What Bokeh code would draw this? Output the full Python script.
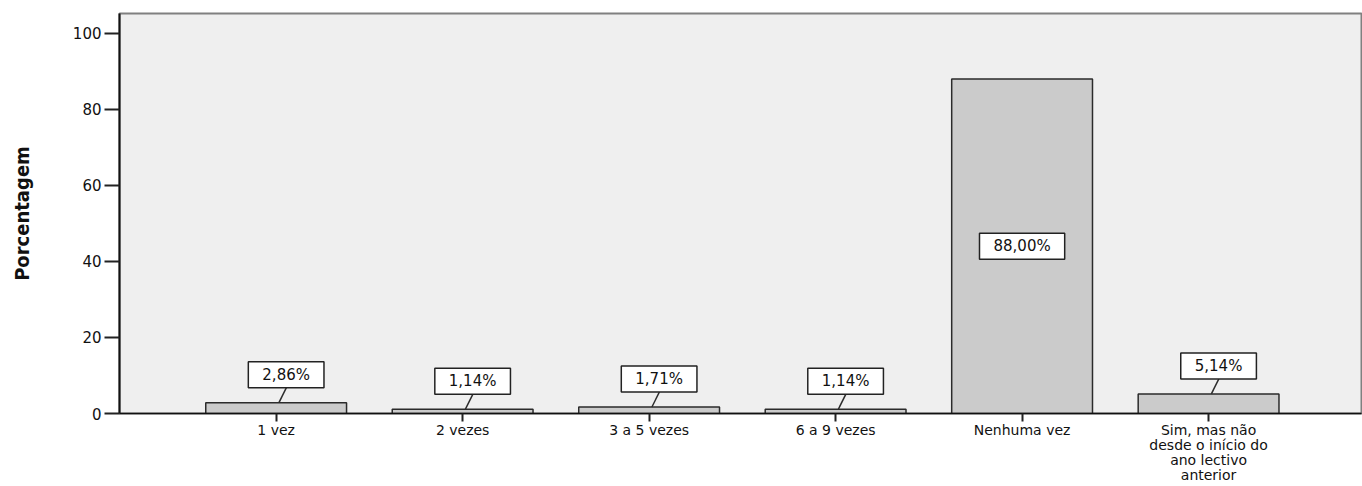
from bokeh.plotting import figure
from bokeh.models import Range1d, FixedTicker, ColumnDataSource
from bokeh.core.properties import value
from bokeh.embed import file_html
from bokeh.resources import INLINE

categories = ["1 vez", "2 vezes", "3 a 5 vezes", "6 a 9 vezes", "Nenhuma vez",
              "Sim, mas não\ndesde o início do\nano lectivo\nanterior"]
values = [2.86, 1.14, 1.71, 1.14, 88.00, 5.14]
labels = ["2,86%", "1,14%", "1,71%", "1,14%", "88,00%", "5,14%"]
y_ticks = [0, 20, 40, 60, 80, 100]

W, H = 1362, 486
B_LEFT, B_RIGHT, B_TOP, B_BOTTOM = 119, 1, 13, 68
Y_MAX = 105.2

xs = list(range(1, len(categories) + 1))

p = figure(width=W, height=H, output_backend="svg", toolbar_location=None,
           x_range=Range1d(0.16, 6.82), y_range=Range1d(0, Y_MAX),
           min_border_left=B_LEFT, min_border_right=B_RIGHT,
           min_border_top=B_TOP, min_border_bottom=B_BOTTOM)

p.background_fill_color = "#efefef"
p.border_fill_color = "white"
p.outline_line_color = "#808080"
p.outline_line_width = 2
p.xgrid.visible = False
p.ygrid.visible = False

src = ColumnDataSource(dict(x=xs, top=values, label=labels))
p.vbar(x="x", top="top", width=0.755, source=src,
       fill_color="#cbcbcb", line_color="#2b2b2b", line_width=1.5)

frame_h = H - B_TOP - B_BOTTOM - 6
units_per_px = Y_MAX / frame_h
out_idx = [i for i, v in enumerate(values) if v < 20]
in_idx = [i for i, v in enumerate(values) if v >= 20]

out_src = ColumnDataSource(dict(
    x=[xs[i] for i in out_idx], y=[values[i] for i in out_idx],
    label=[labels[i] for i in out_idx],
    x0=[xs[i] + 0.015 for i in out_idx],
    x1=[xs[i] + 0.055 for i in out_idx],
    y1=[values[i] + 15 * units_per_px for i in out_idx]))
in_src = ColumnDataSource(dict(
    x=[xs[i] for i in in_idx], y=[values[i] / 2 for i in in_idx],
    label=[labels[i] for i in in_idx]))

p.segment(x0="x0", y0="y", x1="x1", y1="y1", source=out_src,
          line_color="#2b2b2b", line_width=1.5)

common = dict(text_font=value("DejaVu Sans"), text_font_size="15px", text_color="#111111",
              text_align="center", text_baseline="middle",
              background_fill_color="white", border_line_color="#222222",
              border_line_width=1.5, padding=dict(left=14, right=14, top=4, bottom=4))
p.text(x="x", y="y", text="label", source=out_src, x_offset=10, y_offset=-28, **common)
p.text(x="x", y="y", text="label", source=in_src, **common)

# axes
p.xaxis.ticker = FixedTicker(ticks=xs)
p.xaxis.major_label_overrides = {x: c for x, c in zip(xs, categories)}
p.xaxis.minor_tick_line_color = None
p.xaxis.major_tick_in = 0
p.xaxis.major_tick_out = 8
p.xaxis.major_tick_line_width = 2
p.xaxis.major_tick_line_color = "#222222"
p.xaxis.axis_line_color = "#111111"
p.xaxis.axis_line_width = 1.5
p.xaxis.major_label_text_font = "DejaVu Sans"
p.xaxis.major_label_text_font_size = "14px"
p.xaxis.major_label_text_color = "#111111"
p.xaxis.major_label_text_line_height = 0.95
p.xaxis.major_label_standoff = 0

p.yaxis.ticker = FixedTicker(ticks=y_ticks)
p.yaxis.minor_tick_line_color = None
p.yaxis.major_tick_in = 0
p.yaxis.major_tick_out = 15
p.yaxis.major_tick_line_width = 2
p.yaxis.major_tick_line_color = "#222222"
p.yaxis.axis_line_color = "#111111"
p.yaxis.axis_line_width = 2
p.yaxis.major_label_text_font = "DejaVu Sans"
p.yaxis.major_label_text_font_size = "15px"
p.yaxis.major_label_text_color = "#111111"
p.yaxis.major_label_standoff = 3
p.yaxis.axis_label = "Porcentagem"
p.yaxis.axis_label_text_font = "'DejaVu Sans Condensed', 'Liberation Sans', sans-serif"
p.yaxis.axis_label_text_font_style = "bold"
p.yaxis.axis_label_text_font_size = "20px"
p.yaxis.axis_label_text_color = "#111111"
p.yaxis.axis_label_standoff = 36

open("out.html", "w").write(file_html(p, INLINE))
